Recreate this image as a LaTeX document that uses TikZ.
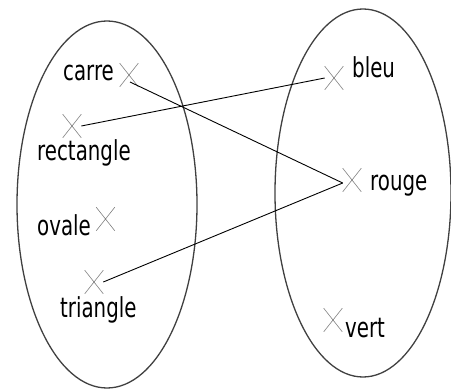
\documentclass[tikz,border=0pt]{standalone}
\usepackage{fontspec}
\newfontfamily\lblfont[FakeStretch=0.72]{DejaVu Sans}
\usetikzlibrary{shapes.misc}
\begin{document}
\begin{tikzpicture}[x=1pt,y=-1pt,
  setline/.style={draw=black!75, line width=1.3pt},
  xmark/.style={cross out, draw=black!50, line width=0.6pt, minimum width=18pt, minimum height=23pt, inner sep=0pt},
  lbl/.style={anchor=base west, inner sep=0pt, font=\lblfont\fontsize{27.5}{33}\selectfont},
  link/.style={draw=black, line width=0.9pt}]
\useasboundingbox (0,0) rectangle (451,389);
% sets
\draw[setline] (107,204.5) ellipse [x radius=90, y radius=183.5];
\draw[setline] (363,193) ellipse [x radius=88, y radius=184];
% left elements
\node[xmark] (xcarre) at (129,75) {};
\node[lbl] (tcarre) at (63,80) {carre};
\node[xmark] (xrect) at (72,126) {};
\node[lbl] (trect) at (37,160) {rectangle};
\node[xmark] (xovale) at (105.5,219) {};
\node[lbl] (tovale) at (37,235) {ovale};
\node[xmark] (xtri) at (94,282) {};
\node[lbl] (ttri) at (60,317) {triangle};
% right elements
\node[xmark] (xbleu) at (334,78) {};
\node[lbl] (tbleu) at (352,77) {bleu};
\node[xmark] (xrouge) at (352,180) {};
\node[lbl] (trouge) at (370,190) {rouge};
\node[xmark] (xvert) at (333,320) {};
\node[lbl] (tvert) at (345,337) {vert};
% links
\draw[link] ([xshift=1pt,yshift=-7pt]xcarre.center) -- ([yshift=-3pt]xrouge.west);
\draw[link] (xrect.east) -- (xbleu.west);
\draw[link] (xtri.east) -- ([yshift=-3pt]xrouge.west);
\end{tikzpicture}
\end{document}
